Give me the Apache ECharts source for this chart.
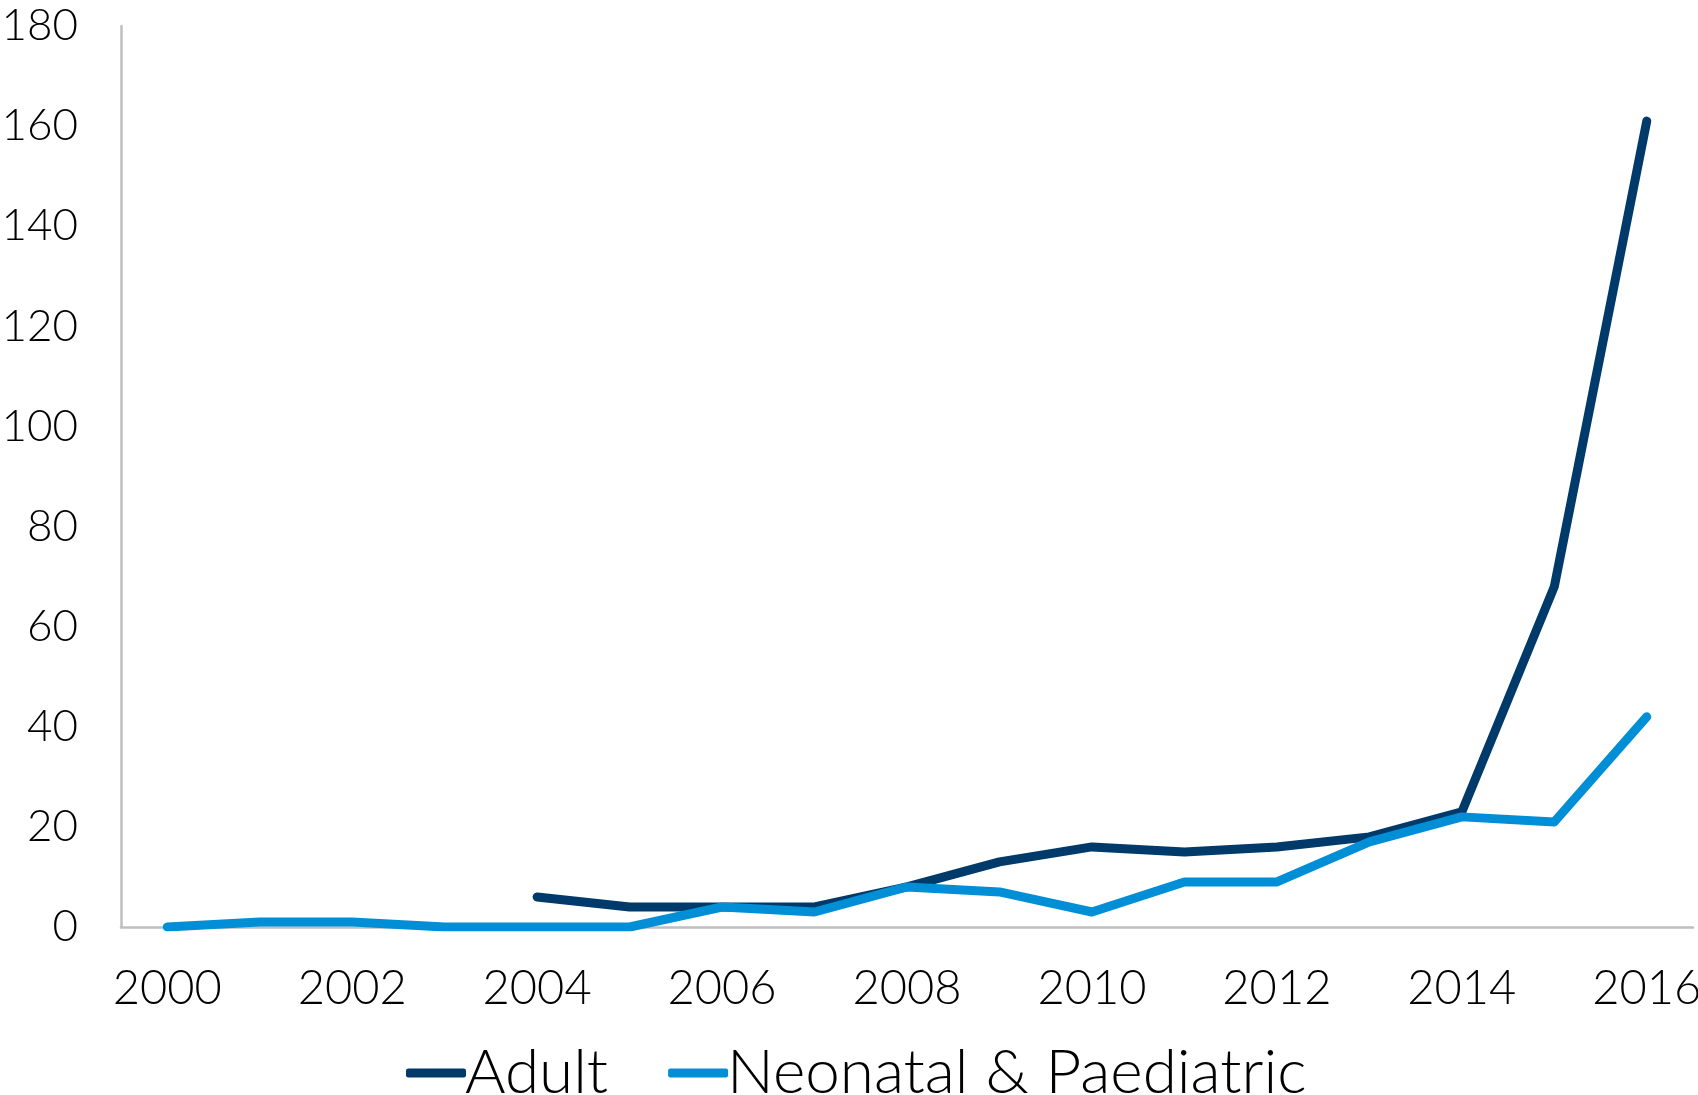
<!DOCTYPE html>
<html>
<head>
<meta charset="utf-8">
<script src="https://cdn.jsdelivr.net/npm/echarts@6/dist/echarts.min.js"></script>
<style>
html,body{margin:0;padding:0;background:#fff;}
#chart{width:1698px;height:1095px;}
</style>
</head>
<body>
<div id="chart"></div>
<script>
const years = ['2000','2001','2002','2003','2004','2005','2006','2007','2008','2009','2010','2011','2012','2013','2014','2015','2016'];
const adult = [null,null,null,null,6,4,4,4,8,13,16,15,16,18,23,68,161];
const neonatal = [0,1,1,0,0,0,4,3,8,7,3,9,9,17,22,21,42];
const yTicks = [0,20,40,60,80,100,120,140,160,180];

const FONT = 'Lato';
const chart = echarts.init(document.getElementById('chart'));
chart.setOption({
  animation:false,
  backgroundColor:'#ffffff',
  grid:{left:121,right:5,top:26,bottom:168,containLabel:false,outerBoundsMode:'none'},
  legend:{
    top:1042,
    left:406,
    padding:0,
    icon:'roundRect',
    itemWidth:60,
    itemHeight:9,
    itemGap:60,
    textStyle:{fontFamily:FONT,fontWeight:300,fontSize:62,color:'#000',padding:[0,0,0,-6]},
    data:['Adult','Neonatal & Paediatric']
  },
  xAxis:{
    type:'category',
    data:years,
    boundaryGap:true,
    axisLine:{lineStyle:{color:'#BFBFBF',width:2.5}},
    axisTick:{show:false},
    axisLabel:{interval:1,margin:38,fontFamily:FONT,fontWeight:300,fontSize:47,color:'#000'}
  },
  yAxis:{
    type:'value',
    min:yTicks[0],
    max:yTicks[yTicks.length-1],
    interval:20,
    splitLine:{show:false},
    axisLine:{show:true,lineStyle:{color:'#BFBFBF',width:2.5}},
    axisTick:{show:false},
    axisLabel:{margin:43,fontFamily:FONT,fontWeight:300,fontSize:44,color:'#000'}
  },
  series:[
    {name:'Adult',type:'line',data:adult,showSymbol:false,symbol:'none',
     itemStyle:{color:'#003A6A'},
     lineStyle:{color:'#003A6A',width:9,cap:'round',join:'round'}},
    {name:'Neonatal & Paediatric',type:'line',data:neonatal,showSymbol:false,symbol:'none',
     itemStyle:{color:'#008FD6'},
     lineStyle:{color:'#008FD6',width:9,cap:'round',join:'round'}}
  ]
});
</script>
</body>
</html>
